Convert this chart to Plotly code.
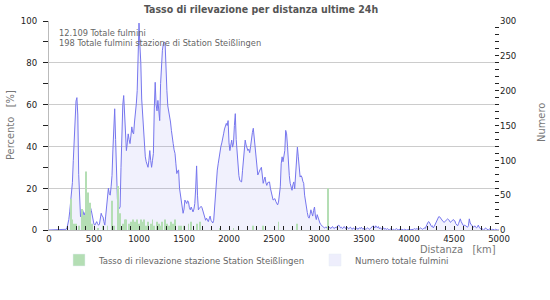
import plotly.graph_objects as go

# ---- data ----
title_text = "Tasso di rilevazione per distanza ultime 24h"
total_label = "12.109 Totale fulmini"
station_label = "198 Totale fulmini stazione di Station Steißlingen"
green_name = "Tasso di rilevazione stazione Station Steißlingen"
blue_name = "Numero totale fulmini"

# distance bins (km), 10 km steps
distance_km = list(range(0, 5001, 10))

# total strokes per distance bin (right axis)
total_counts = [
    0, 0, 0, 0, 0, 0, 0, 0, 0, 0,
    0, 0, 0, 0, 0, 0, 0, 0, 0, 1,
    3, 8, 15, 26, 40, 55, 68, 100, 128, 165,
    185, 190, 165, 80, 30, 19, 24, 30, 26, 21,
    25, 22, 24, 27, 30, 25, 33, 28, 19, 14,
    8, 7, 10, 12, 9, 7, 8, 15, 24, 20,
    19, 12, 7, 20, 38, 52, 60, 52, 50, 62,
    78, 115, 150, 174, 130, 76, 45, 29, 32, 33,
    90, 140, 180, 193, 160, 135, 114, 125, 138, 130,
    124, 135, 148, 140, 138, 155, 165, 181, 200, 238,
    297, 265, 240, 188, 165, 148, 115, 105, 98, 95,
    90, 100, 114, 100, 90, 100, 110, 175, 212, 180,
    171, 186, 175, 157, 210, 248, 258, 267, 270, 268,
    225, 200, 178, 171, 167, 155, 143, 130, 124, 115,
    110, 95, 81, 85, 86, 60, 48, 35, 33, 24,
    30, 43, 40, 38, 42, 40, 32, 29, 33, 30,
    26, 30, 38, 60, 92, 50, 29, 31, 33, 34,
    32, 28, 22, 21, 14, 17, 15, 12, 16, 20,
    14, 12, 10, 14, 35, 60, 75, 86, 95, 105,
    114, 120, 125, 130, 138, 145, 148, 153, 150, 157,
    125, 114, 122, 129, 119, 125, 150, 167, 130, 114,
    86, 78, 71, 70, 69, 85, 103, 115, 129, 122,
    119, 114, 116, 111, 120, 133, 140, 146, 130, 124,
    103, 95, 79, 82, 86, 88, 90, 75, 67, 72,
    76, 68, 64, 68, 69, 69, 60, 53, 48, 43,
    44, 45, 41, 38, 36, 40, 50, 62, 95, 105,
    98, 105, 114, 143, 138, 120, 95, 78, 67, 60,
    57, 65, 69, 59, 75, 100, 119, 105, 90, 76,
    78, 76, 70, 67, 50, 40, 33, 25, 19, 17,
    22, 29, 24, 20, 28, 33, 20, 15, 22, 18,
    12, 10, 8, 6, 5, 4, 3, 4, 3, 5,
    5, 3, 4, 2, 4, 5, 3, 2, 4, 3,
    5, 6, 7, 5, 3, 4, 2, 3, 5, 3,
    2, 4, 3, 2, 3, 4, 2, 1, 3, 2,
    1, 2, 3, 1, 2, 3, 2, 4, 2, 1,
    3, 2, 1, 2, 3, 2, 1, 2, 3, 4,
    6, 5, 3, 6, 4, 3, 5, 2, 3, 2,
    1, 2, 3, 1, 2, 1, 2, 1, 0, 1,
    2, 1, 0, 1, 0, 1, 2, 1, 0, 1,
    0, 0, 1, 0, 0, 1, 0, 0, 0, 1,
    0, 0, 0, 1, 0, 1, 2, 1, 2, 1,
    2, 1, 2, 3, 2, 1, 2, 3, 2, 4,
    8, 11, 12, 10, 7, 5, 6, 3, 5, 8,
    10, 14, 18, 19, 19, 17, 16, 14, 12, 11,
    12, 14, 15, 16, 15, 13, 11, 12, 14, 15,
    14, 13, 9, 7, 6, 9, 13, 16, 12, 9,
    7, 6, 7, 6, 5, 4, 6, 16, 10, 7,
    6, 5, 4, 6, 5, 3, 4, 7, 4, 2,
    1, 2, 1, 0, 1, 3, 2, 1, 0, 1,
    2, 1, 0, 1, 0, 0, 1, 0, 0, 0,
    0,
]

# station detection rate (%) per distance bin (left axis)
rate_km = [240, 260, 280, 300, 330, 370, 390, 410, 430, 440, 460, 480,
           540, 600, 650, 700, 720, 770, 790,
           820, 840, 860, 890, 910, 930, 960, 980, 1000, 1020, 1040, 1060,
           1080, 1100, 1130, 1150, 1170, 1200, 1220, 1240, 1260, 1290, 1310,
           1330, 1360, 1380, 1400, 1440, 1470, 1500, 1550, 1580, 1640, 1680,
           1900, 2050, 2270, 2380, 2550, 2760, 3100]
rate_pct = [15, 5, 3, 3, 2, 10, 7, 28, 18, 10, 13, 3,
            1, 2, 2, 14, 2, 21, 8,
            3, 5, 5, 3, 4, 5, 4, 5, 3, 5, 4, 5,
            2, 4, 3, 5, 2, 4, 3, 2, 4, 5, 3,
            2, 4, 3, 5, 2, 2, 2, 3, 4, 3, 4,
            1, 1, 2, 2, 4, 3, 20]

x_ticks = [0, 500, 1000, 1500, 2000, 2500, 3000, 3500, 4000, 4500, 5000]
left_ticks = [0, 20, 40, 60, 80, 100]
right_ticks = [0, 50, 100, 150, 200, 250, 300]

# ---- style ----
FONT = "DejaVu Sans Condensed, DejaVu Sans, sans-serif"
GREEN = "rgb(180,222,180)"
BLUE = "rgb(118,118,238)"
LAVENDER_FILL = "rgba(150,150,240,0.13)"
LAVENDER_LEG = "rgb(238,238,252)"

fig = go.Figure()

# total strokes (primary y, displayed on the right)
fig.add_trace(go.Scatter(
    x=distance_km, y=total_counts, mode="lines",
    line=dict(color=BLUE, width=1), fill="tozeroy", fillcolor=LAVENDER_FILL,
    yaxis="y", showlegend=False, hoverinfo="skip"))

# station detection rate (overlay y on the left)
fig.add_trace(go.Bar(
    x=rate_km, y=rate_pct, width=11, marker=dict(color=GREEN, line=dict(width=0)),
    yaxis="y2", showlegend=False, hoverinfo="skip"))

# legend entries
fig.add_trace(go.Bar(x=[None], y=[None], name=green_name, yaxis="y2",
                     marker=dict(color=GREEN), legend="legend"))
fig.add_trace(go.Bar(x=[None], y=[None], name=blue_name, yaxis="y2",
                     marker=dict(color=LAVENDER_LEG), legend="legend2"))

W, H = 550, 300
L, R, T, B = 49, 51, 21, 70
pw, ph = W - L - R, H - T - B

def px(x):
    return (x - L) / pw

def py(y):
    return (H - B - y) / ph

fig.update_layout(
    width=W, height=H,
    margin=dict(l=L, r=R, t=T, b=B, pad=0),
    paper_bgcolor="white", plot_bgcolor="white",
    font=dict(family=FONT, size=10, color="#222"),
    barmode="overlay",
    xaxis=dict(
        range=[0, 5000], tickvals=x_ticks, ticks="inside", ticklen=4,
        tickcolor="#222", showgrid=False, showline=True, linecolor="#bbbbbb",
        linewidth=1, zeroline=False, tickfont=dict(size=9.5, color="#222"),
        minor=dict(dtick=100, ticks="inside", ticklen=4, tickcolor="#222", showgrid=False),
    ),
    yaxis=dict(
        range=[0, 300], tickvals=right_ticks, side="right", ticks="inside", ticklen=4,
        tickcolor="#222", showgrid=False, showline=False, zeroline=False,
        tickfont=dict(size=9.5, color="#222"),
        minor=dict(dtick=10, ticks="inside", ticklen=4, tickcolor="#222", showgrid=False),
    ),
    yaxis2=dict(
        range=[0, 100], tickvals=left_ticks, side="left", overlaying="y",
        ticks="outside", ticklen=5, tickcolor="#222", showgrid=True,
        gridcolor="#cccccc", gridwidth=1, showline=True, linecolor="#bbbbbb",
        zeroline=False, tickfont=dict(size=9.5, color="#222"), ticklabelstandoff=4,
        minor=dict(dtick=10, ticks="outside", ticklen=5, tickcolor="#222", showgrid=False),
    ),
    legend=dict(orientation="h", x=px(59), xanchor="left", y=py(260), yanchor="middle",
                font=dict(size=9.5, color="#666"), bgcolor="rgba(0,0,0,0)"),
    legend2=dict(orientation="h", x=px(315), xanchor="left", y=py(260), yanchor="middle",
                 font=dict(size=9.5, color="#666"), bgcolor="rgba(0,0,0,0)"),
    annotations=[
        dict(text="<b>" + title_text + "</b>", xref="paper", yref="paper",
             x=px(261), y=py(9), xanchor="center", yanchor="middle", showarrow=False,
             font=dict(size=10.5, color="#555")),
        dict(text=total_label, xref="paper", yref="paper", x=px(57), y=py(33),
             xanchor="left", yanchor="middle", showarrow=False,
             font=dict(size=9.2, color="#666")),
        dict(text=station_label, xref="paper", yref="paper", x=px(57), y=py(42.5),
             xanchor="left", yanchor="middle", showarrow=False,
             font=dict(size=9.2, color="#666")),
        dict(text="Percento\u00a0\u00a0 [%]", xref="paper", yref="paper", x=px(10), y=py(125),
             xanchor="center", yanchor="middle", showarrow=False, textangle=-90,
             font=dict(size=11, color="#777")),
        dict(text="Numero", xref="paper", yref="paper", x=px(541), y=py(123),
             xanchor="center", yanchor="middle", showarrow=False, textangle=-90,
             font=dict(size=11, color="#777")),
        dict(text="Distanza\u00a0\u00a0 [km]", xref="paper", yref="paper", x=px(498), y=py(249.5),
             xanchor="right", yanchor="middle", showarrow=False,
             font=dict(size=11, color="#777")),
    ],
)

fig.write_html("out.html")
